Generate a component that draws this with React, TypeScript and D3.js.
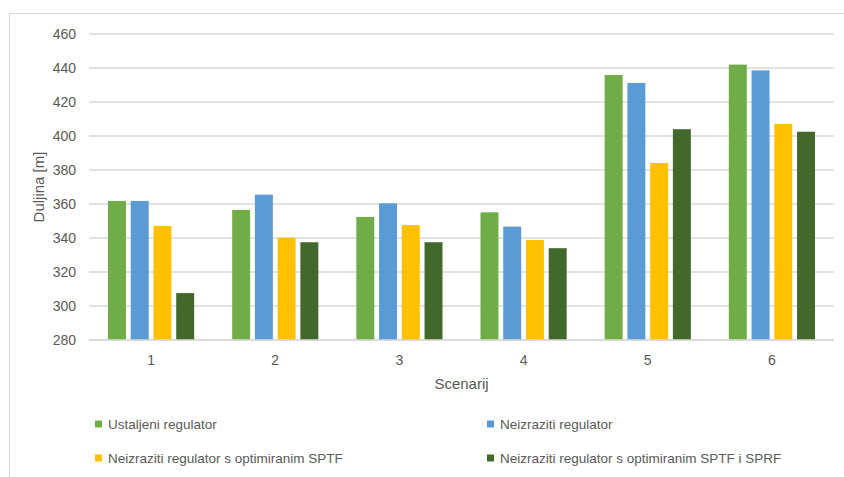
import React from "react";
import * as d3 from "d3";

const categories = ["1", "2", "3", "4", "5", "6"];
const seriesNames = [
  "Ustaljeni regulator",
  "Neizraziti regulator",
  "Neizraziti regulator s optimiranim SPTF",
  "Neizraziti regulator s optimiranim SPTF i SPRF",
];
const ustaljeni = [361.8, 356.5, 352.4, 355.1, 435.9, 442.0];
const neizraziti = [361.8, 365.5, 360.4, 346.7, 431.2, 438.6];
const neizrazitiSPTF = [347.1, 340.2, 347.6, 338.8, 384.1, 407.1];
const neizrazitiSPTFSPRF = [307.6, 337.5, 337.5, 334.0, 404.0, 402.5];
const yTicks = [280, 300, 320, 340, 360, 380, 400, 420, 440, 460];
const colors = ["#70AD47", "#5B9BD5", "#FFC000", "#43682B"];

const seriesValues = [ustaljeni, neizraziti, neizrazitiSPTF, neizrazitiSPTFSPRF];

const W = 844;
const H = 477;
const font = "'Liberation Sans', Arial, sans-serif";
const textColor = "#595959";
const gridColor = "#d9d9d9";

export default function App() {
  const plotLeft = 89;
  const plotRight = 834;
  const plotTop = 34;
  const plotBottom = 340;

  const y = d3.scaleLinear().domain([280, 460]).range([plotBottom, plotTop]);
  const x0 = d3.scaleBand<string>().domain(categories).range([plotLeft, plotRight]).padding(0);
  const bw = x0.bandwidth();
  const outer = bw * 0.153;
  const x1 = d3
    .scaleBand<string>()
    .domain(seriesNames)
    .range([outer, bw - outer])
    .paddingInner(0.21);

  const legendPos = [
    { x: 95, y: 424 },
    { x: 487, y: 424 },
    { x: 95, y: 458 },
    { x: 487, y: 458 },
  ];

  return (
    <svg
      width={W}
      height={H}
      style={{ position: "absolute", left: 0, top: 0, background: "#fff" }}
      fontFamily={font}
    >
      <rect x={0} y={0} width={W} height={H} fill="#fff" />
      <rect x={9.5} y={13.5} width={W + 10} height={H + 10} fill="none" stroke={gridColor} strokeWidth={1} />
      {yTicks.map((t) => (
        <g key={t}>
          <line
            x1={plotLeft}
            x2={plotRight}
            y1={y(t)}
            y2={y(t)}
            stroke={gridColor}
            strokeWidth={1.3}
          />
          <text
            x={76}
            y={y(t)}
            textAnchor="end"
            dominantBaseline="central"
            fontSize={14}
            fill={textColor}
          >
            {t}
          </text>
        </g>
      ))}
      {categories.map((c, i) => (
        <g key={c}>
          {seriesNames.map((s, j) => {
            const v = seriesValues[j][i];
            return (
              <rect
                key={s}
                x={(x0(c) as number) + (x1(s) as number)}
                y={y(v)}
                width={x1.bandwidth()}
                height={plotBottom - y(v)}
                fill={colors[j]}
              />
            );
          })}
          <text
            x={(x0(c) as number) + bw / 2}
            y={360}
            textAnchor="middle"
            dominantBaseline="central"
            fontSize={14}
            fill={textColor}
          >
            {c}
          </text>
        </g>
      ))}
      <line x1={plotLeft} x2={plotRight} y1={plotBottom} y2={plotBottom} stroke={gridColor} strokeWidth={1.3} />
      <text
        x={(plotLeft + plotRight) / 2}
        y={383}
        textAnchor="middle"
        dominantBaseline="central"
        fontSize={15}
        fill={textColor}
      >
        Scenarij
      </text>
      <text
        transform={`translate(38, ${(plotTop + plotBottom) / 2}) rotate(-90)`}
        textAnchor="middle"
        dominantBaseline="central"
        fontSize={15}
        fill={textColor}
      >
        Duljina [m]
      </text>
      {seriesNames.map((s, j) => (
        <g key={s}>
          <rect x={legendPos[j].x} y={legendPos[j].y - 3.5} width={7} height={7} fill={colors[j]} />
          <text
            x={legendPos[j].x + 13}
            y={legendPos[j].y}
            dominantBaseline="central"
            fontSize={13.5}
            fill={textColor}
          >
            {s}
          </text>
        </g>
      ))}
    </svg>
  );
}
